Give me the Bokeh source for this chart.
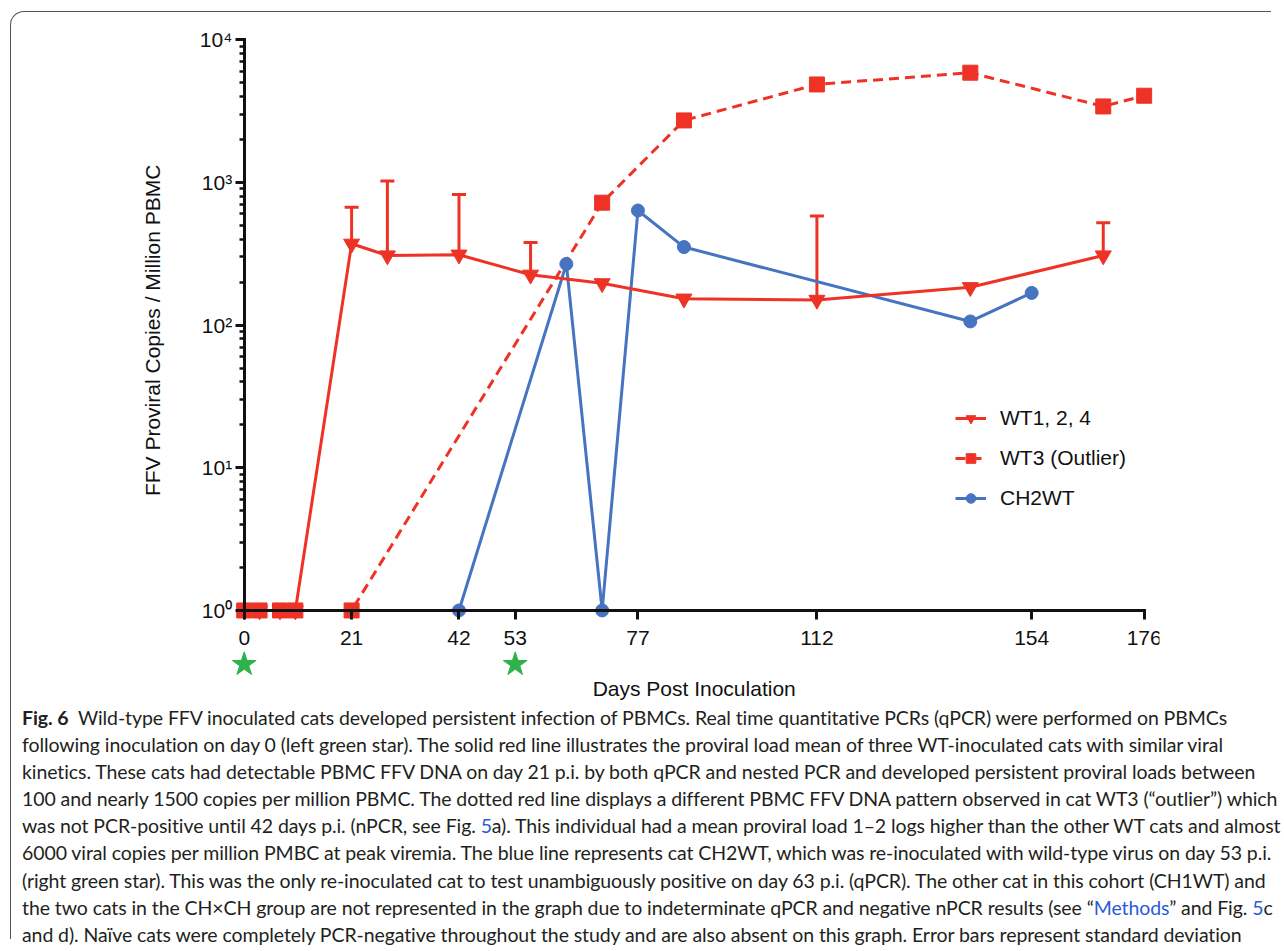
import math
from bokeh.plotting import figure
from bokeh.models import (FixedTicker, Whisker, TeeHead, Legend, LegendItem, Label,
                          Div, ColumnDataSource, Range1d)
from bokeh.layouts import column
from bokeh.embed import file_html
from bokeh.resources import INLINE

# ---------------- data ----------------
wt_days = [0, 3, 7, 10, 21, 28, 42, 56, 70, 86, 112, 142, 168]
wt_mean = [1, 1, 1, 1, 371, 307, 311, 225, 196, 153, 150, 184, 307]
wt_err_days = [21, 28, 42, 56, 112, 168]
wt_err_top = [670, 1020, 823, 379, 580, 521]

wt3_days = [0, 3, 7, 10, 21, 70, 86, 112, 142, 168, 176]
wt3_vals = [1, 1, 1, 1, 1, 720, 2716, 4853, 5866, 3404, 4045]

ch_days = [0, 3, 7, 10, 21, 42, 63, 70, 77, 86, 142, 154]
ch_vals = [1, 1, 1, 1, 1, 1, 268, 1, 635, 352, 106, 168]

inoculation_days = [0, 53]

x_ticks = [0, 21, 42, 53, 77, 112, 154, 176]
y_ticks = [1, 10, 100, 1000, 10000]
y_tick_labels = ["10⁰", "10¹", "10²", "10³", "10⁴"]

series_labels = ["WT1, 2, 4", "WT3 (Outlier)", "CH2WT"]
x_title = "Days Post Inoculation"
y_title = "FFV Proviral Copies / Million PBMC"

RED = "#EE3326"
BLUE = "#4674C1"
GREEN = "#2DB34A"
INK = "#111111"
FONT = "Liberation Sans"

# ---------------- figure ----------------
# the (invisible) frame is made large enough to hold tick labels, titles and stars
p = figure(frame_width=1038, frame_height=672,
           min_border_left=110, min_border_right=112,
           min_border_top=20, min_border_bottom=0,
           x_range=Range1d(-24, 179), y_range=Range1d(10 ** -0.659, 10 ** 4.05),
           y_axis_type="log", output_backend="svg", toolbar_location=None,
           outline_line_color=None, background_fill_color=None,
           border_fill_color=None)
p.grid.visible = False

xa = p.xaxis[0]
ya = p.yaxis[0]
xa.fixed_location = 1
ya.fixed_location = 0
xa.bounds = (0, 176)
ya.bounds = (1, 10000)
xa.ticker = FixedTicker(ticks=x_ticks, minor_ticks=[])
minor = [m * 10 ** e for e in range(4) for m in range(2, 10)]
ya.ticker = FixedTicker(ticks=y_ticks, minor_ticks=minor)
ya.major_label_overrides = {t: lab for t, lab in zip(y_ticks, y_tick_labels)}

for axes in (p.xaxis, p.yaxis):
    axes.axis_line_width = 3
    axes.axis_line_color = INK
    axes.axis_line_cap = "square"
    axes.major_tick_line_width = 3
    axes.major_tick_line_color = INK
    axes.major_tick_out = 9
    axes.major_tick_in = 0
    axes.minor_tick_line_width = 2.5
    axes.minor_tick_line_color = INK
    axes.minor_tick_out = 5
    axes.minor_tick_in = 0
    axes.major_label_text_font = FONT
    axes.major_label_text_font_size = "21px"
    axes.major_label_text_color = INK
    axes.level = "overlay"
p.xaxis.major_label_standoff = 12
p.yaxis.major_label_standoff = 3

# lines
blue_line = p.line(ch_days, ch_vals, line_color=BLUE, line_width=3)
red_line = p.line(wt_days, wt_mean, line_color=RED, line_width=3)
wt3_line = p.line(wt3_days, wt3_vals, line_color=RED, line_width=3, line_dash="10 6")

# error bars (upper only)
mean_at = dict(zip(wt_days, wt_mean))
err_src = ColumnDataSource(dict(base=wt_err_days,
                                lower=[mean_at[d] for d in wt_err_days],
                                upper=wt_err_top))
whisk = Whisker(source=err_src, base="base", lower="lower", upper="upper",
                dimension="height", line_color=RED, line_width=3,
                upper_head=TeeHead(size=14, line_color=RED, line_width=3),
                lower_head=None)
p.add_layout(whisk)

# markers
blue_pts = p.scatter(ch_days, ch_vals, marker="circle", size=13,
                     fill_color=BLUE, line_color=BLUE)
tri_pts = p.scatter(wt_days, wt_mean, marker="inverted_triangle", size=16,
                    fill_color=RED, line_color=RED)
sq_pts = p.scatter(wt3_days, wt3_vals, marker="square", size=15,
                   fill_color=RED, line_color=RED)
p.scatter(inoculation_days, [0.419] * len(inoculation_days), marker="star",
          size=25, fill_color=GREEN, line_color=GREEN)

# axis titles
p.add_layout(Label(x=88.0, y=0.2844, text=x_title, text_align="center",
                   text_baseline="middle", text_font=FONT,
                   text_font_size="21px", text_color=INK))
p.add_layout(Label(x=-17.9, y=91.8, text=y_title, angle=math.pi / 2,
                   text_align="center", text_baseline="middle",
                   text_font=FONT, text_font_size="21px", text_color=INK))

legend = Legend(items=[
    LegendItem(label=series_labels[0], renderers=[red_line, tri_pts]),
    LegendItem(label=series_labels[1], renderers=[wt3_line, sq_pts]),
    LegendItem(label=series_labels[2], renderers=[blue_line, blue_pts]),
], location=(834, 194), padding=0, margin=0, border_line_color=None,
    background_fill_alpha=0, glyph_width=31, glyph_height=24, label_height=24,
    spacing=16, label_standoff=14, label_text_font=FONT,
    label_text_font_size="21px", label_text_color=INK)
p.add_layout(legend)

# ---------------- caption ----------------
LINK = "#2a5bd7"
lines = [
    '<b>Fig.&nbsp;6</b>&nbsp;&nbsp;Wild-type FFV inoculated cats developed persistent infection of PBMCs. Real time quantitative PCRs (qPCR) were performed on PBMCs',
    'following inoculation on day 0 (left green star). The solid red line illustrates the proviral load mean of three WT-inoculated cats with similar viral',
    'kinetics. These cats had detectable PBMC FFV DNA on day 21 p.i. by both qPCR and nested PCR and developed persistent proviral loads between',
    '100 and nearly 1500 copies per million PBMC. The dotted red line displays a different PBMC FFV DNA pattern observed in cat WT3 (“outlier”) which',
    f'was not PCR-positive until 42 days p.i. (nPCR, see Fig. <span style="color:{LINK}">5</span>a). This individual had a mean proviral load 1–2 logs higher than the other WT cats and almost',
    '6000 viral copies per million PMBC at peak viremia. The blue line represents cat CH2WT, which was re-inoculated with wild-type virus on day 53 p.i.',
    '(right green star). This was the only re-inoculated cat to test unambiguously positive on day 63 p.i. (qPCR). The other cat in this cohort (CH1WT) and',
    f'the two cats in the CH×CH group are not represented in the graph due to indeterminate qPCR and negative nPCR results (see “<span style="color:{LINK}">Methods</span>” and Fig. <span style="color:{LINK}">5</span>c',
    'and d). Naïve cats were completely PCR-negative throughout the study and are also absent on this graph. Error bars represent standard deviation',
]
html = ('<div style="font-family: Lato, sans-serif; font-size: 19.5px; line-height: 27.1px; '
        'color: #231f20; padding-left: 11px; white-space: nowrap; letter-spacing: -0.09px;">'
        + "<br>".join(lines) + "</div>")
cap = Div(text=html, width=1260, height=235, margin=(0, 0, 0, 0))

layout = column(p, cap, margin=(11, 0, 0, 10),
                styles={"border-top": "1px solid #555", "border-left": "1px solid #555",
                        "border-top-left-radius": "14px"})

open("out.html", "w").write(file_html(layout, INLINE))
